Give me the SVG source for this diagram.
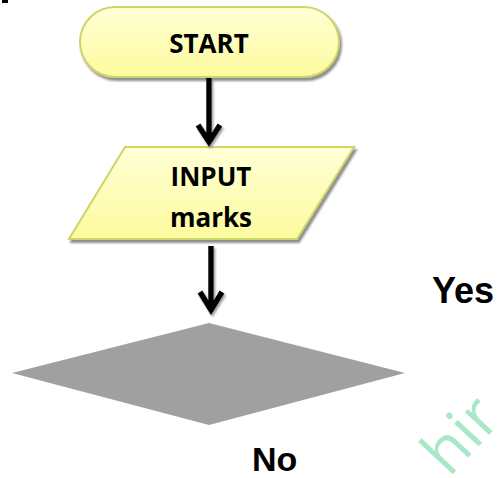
<svg xmlns="http://www.w3.org/2000/svg" width="497" height="478" viewBox="0 0 497 478">
<style>
.lbl{font-family:"Liberation Sans",Arial,sans-serif;font-weight:bold;fill:#000;}
.node{font-family:"Open Sans","Liberation Sans",sans-serif;font-weight:bold;fill:#000;text-anchor:middle;}
.shape{stroke:#cdd46a;stroke-width:2;fill:url(#yg);filter:url(#sh);}
.conn{stroke:#000;stroke-width:5.5;fill:none;filter:url(#sh2);}
</style>
<defs>
<linearGradient id="yg" x1="0" y1="0" x2="0" y2="1">
<stop offset="0" stop-color="#ffffd6"/>
<stop offset="1" stop-color="#fdfb9e"/>
</linearGradient>
<filter id="sh" x="-10%" y="-10%" width="125%" height="130%">
<feDropShadow dx="2" dy="3" stdDeviation="1" flood-color="#808080" flood-opacity="0.9"/>
</filter>
<filter id="sh2" x="-50%" y="-10%" width="200%" height="130%">
<feDropShadow dx="1.5" dy="2" stdDeviation="1" flood-color="#808080" flood-opacity="0.8"/>
</filter>
</defs>
<rect x="2" y="0" width="6" height="3" fill="#000"/>
<g id="start">
<rect class="shape" x="80" y="7" width="259" height="70" rx="35" ry="35"/>
<text class="node" x="209" y="53" font-size="26">START</text>
</g>
<g id="input">
<polygon class="shape" points="125,147 354,147 297,239 69,239"/>
<text class="node" x="211" y="186" font-size="26">INPUT</text>
<text class="node" x="211" y="227" font-size="26">marks</text>
</g>
<g id="decision">
<polygon points="12,373 209,323 405,373 209,425" fill="#a0a0a0"/>
</g>
<g id="connectors">
<path class="conn" d="M209,78 V142 M198,125 L209,142 L220,125"/>
<path class="conn" d="M211,246 V310 M200,292 L211,310 L222,292"/>
</g>
<text class="lbl" x="432" y="303" font-size="36">Yes</text>
<text class="lbl" x="252" y="471" font-size="34">No</text>
<text x="449" y="478" font-family="'Open Sans',sans-serif" font-size="62" fill="#a8e8c6" transform="rotate(-47 449 478)">hir</text>
</svg>
